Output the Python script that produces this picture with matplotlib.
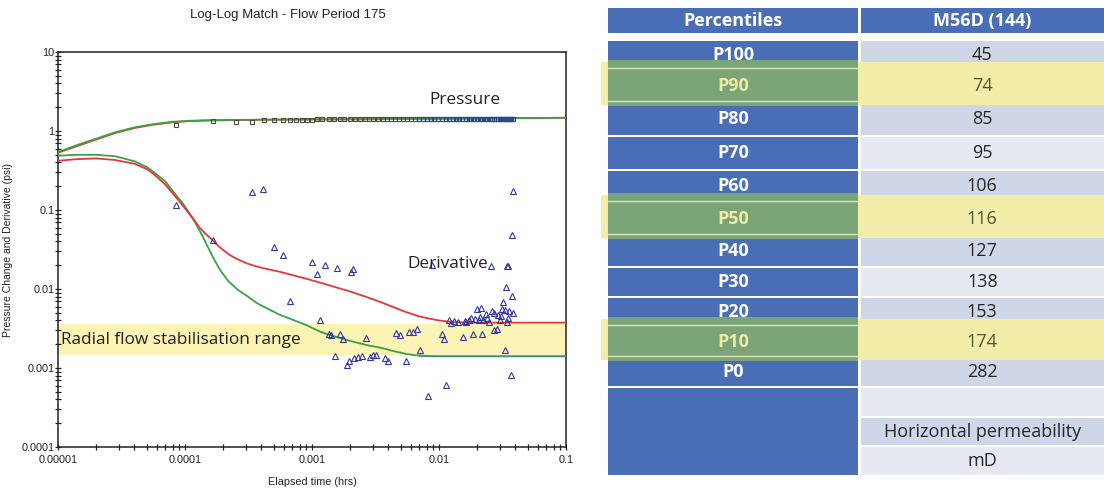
import matplotlib
matplotlib.use("Agg")
import matplotlib.pyplot as plt
from matplotlib.patches import Rectangle
from matplotlib.ticker import LogLocator, FixedLocator, FixedFormatter, NullFormatter

# ---------------- chart data ----------------
# pressure model curves (red / green)
pm_time = [1e-5, 1.4e-5, 2e-5, 2.8e-5, 4e-5, 5.6e-5, 8e-5, 1.12e-4, 1.6e-4,
           2.24e-4, 4e-4, 9e-4, 3e-3, 1e-2, 3e-2, 0.1]
pm_red = [0.53, 0.64, 0.78, 0.94, 1.09, 1.20, 1.29, 1.34, 1.36,
          1.37, 1.39, 1.40, 1.41, 1.43, 1.45, 1.47]
pm_green = [0.54, 0.66, 0.80, 0.96, 1.11, 1.22, 1.31, 1.35, 1.37,
            1.38, 1.39, 1.40, 1.41, 1.43, 1.45, 1.47]

# derivative model curves
dr_time = [1e-5, 1.4e-5, 2e-5, 2.8e-5, 4e-5, 5e-5, 5.6e-5, 7e-5, 8.5e-5,
           1.05e-4, 1.18e-4, 1.3e-4, 1.45e-4, 1.64e-4, 1.8e-4, 2.0e-4, 2.25e-4,
           2.5e-4, 2.8e-4, 3.1e-4, 3.7e-4, 4.5e-4, 5.6e-4, 7e-4, 9e-4,
           1.15e-3, 1.4e-3, 2.0e-3, 2.7e-3, 3.5e-3, 4.5e-3, 5.5e-3, 7e-3,
           8.5e-3, 1.0e-2, 1.3e-2, 2.0e-2, 0.1]
dr_red = [0.42, 0.44, 0.45, 0.43, 0.385, 0.33, 0.29, 0.21, 0.145,
          0.095, 0.075, 0.060, 0.050, 0.042, 0.036, 0.031, 0.027,
          0.0245, 0.0225, 0.021, 0.0192, 0.0178, 0.0165, 0.0150, 0.0135,
          0.0121, 0.0110, 0.0093, 0.0079, 0.0068, 0.0058, 0.0051, 0.0045,
          0.0042, 0.0040, 0.0038, 0.00375, 0.00375]
dg_time = [1e-5, 1.4e-5, 2e-5, 2.8e-5, 4e-5, 5e-5, 5.6e-5, 7e-5, 8.5e-5,
           9.5e-5, 1.05e-4, 1.15e-4, 1.25e-4, 1.38e-4, 1.5e-4, 1.7e-4, 1.9e-4,
           2.2e-4, 2.6e-4, 3.1e-4, 3.7e-4, 4.5e-4, 5.6e-4, 7e-4, 9e-4,
           1.15e-3, 1.4e-3, 2.0e-3, 2.7e-3, 3.5e-3, 4.5e-3, 5.5e-3, 6.5e-3,
           8e-3, 1e-2, 0.1]
dg_green = [0.487, 0.50, 0.50, 0.48, 0.414, 0.35, 0.307, 0.23, 0.154,
            0.125, 0.098, 0.078, 0.062, 0.046, 0.035, 0.0235, 0.0172,
            0.0125, 0.0098, 0.0081, 0.0066, 0.0056, 0.0047, 0.0041, 0.0035,
            0.0029, 0.0026, 0.0022, 0.00195, 0.0018, 0.00162, 0.00151, 0.00145,
            0.00142, 0.00141, 0.00141]

# pressure change data (squares)
p_time = [8.5e-5, 1.67e-4, 2.53e-4, 3.34e-4, 4.2e-4, 5.0e-4, 5.9e-4, 6.7e-4, 7.5e-4, 8.4e-4,
          9.2e-4, 1.0e-3, 1.1e-3, 1.2e-3, 1.35e-3, 1.5e-3, 1.65e-3, 1.8e-3, 2.0e-3, 2.2e-3,
          2.4e-3, 2.6e-3, 2.8e-3, 3.0e-3, 3.3e-3, 3.6e-3, 3.9e-3, 4.2e-3, 4.5e-3, 4.8e-3,
          5.2e-3, 5.6e-3, 6.0e-3, 6.5e-3, 7.0e-3, 7.5e-3, 8.0e-3, 8.6e-3, 9.2e-3, 0.0099,
          0.0106, 0.0113, 0.0120, 0.0128, 0.0136, 0.0144, 0.0153, 0.0162, 0.0171, 0.0180,
          0.019, 0.020, 0.021, 0.022, 0.023, 0.024, 0.025, 0.026, 0.027, 0.028,
          0.029, 0.030, 0.031, 0.032, 0.033, 0.034, 0.035, 0.036, 0.037, 0.038]
p_value = [1.18, 1.33, 1.30, 1.30, 1.37, 1.38, 1.38, 1.39, 1.39, 1.39,
           1.39, 1.39, 1.40, 1.40, 1.40, 1.40, 1.40, 1.40, 1.40, 1.40,
           1.40, 1.40, 1.40, 1.40, 1.40, 1.40, 1.40, 1.40, 1.40, 1.40,
           1.40, 1.40, 1.40, 1.40, 1.40, 1.40, 1.40, 1.40, 1.40, 1.40,
           1.40, 1.40, 1.40, 1.40, 1.40, 1.40, 1.40, 1.40, 1.40, 1.40,
           1.40, 1.40, 1.40, 1.40, 1.40, 1.40, 1.40, 1.40, 1.40, 1.40,
           1.40, 1.40, 1.40, 1.40, 1.40, 1.40, 1.40, 1.40, 1.40, 1.40]

# derivative data (triangles)
d_time = [8.5e-5, 1.67e-4, 3.36e-4, 4.14e-4, 4.99e-4, 5.86e-4, 6.68e-4, 1.00e-3, 1.09e-3, 1.26e-3,
          1.16e-3, 1.35e-3, 1.42e-3, 1.52e-3, 1.57e-3, 1.65e-3, 1.74e-3, 1.87e-3, 1.94e-3, 2.03e-3,
          2.10e-3, 2.15e-3, 2.30e-3, 2.48e-3, 2.68e-3, 2.84e-3, 3.02e-3, 3.20e-3, 3.74e-3, 4.00e-3,
          4.61e-3, 4.95e-3, 5.48e-3, 5.80e-3, 6.20e-3, 6.76e-3, 7.15e-3, 8.15e-3, 8.73e-3, 1.06e-2,
          1.10e-2, 1.14e-2, 1.19e-2, 1.25e-2, 1.31e-2, 1.40e-2, 1.55e-2, 1.60e-2, 1.64e-2, 1.72e-2,
          1.80e-2, 1.85e-2, 1.92e-2, 1.98e-2, 2.05e-2, 2.10e-2, 2.13e-2, 2.20e-2, 2.23e-2, 2.36e-2,
          2.40e-2, 2.49e-2, 2.58e-2, 2.62e-2, 2.70e-2, 2.71e-2, 2.86e-2, 2.94e-2, 3.01e-2, 3.10e-2,
          3.11e-2, 3.22e-2, 3.29e-2, 3.30e-2, 3.34e-2, 3.41e-2, 3.45e-2, 3.50e-2, 3.52e-2, 3.57e-2,
          3.70e-2, 3.79e-2, 3.84e-2, 3.79e-2, 3.84e-2]
d_value = [0.115, 0.042, 0.170, 0.185, 0.034, 0.027, 0.0070, 0.022, 0.0155, 0.020,
           0.0041, 0.0027, 0.0026, 0.00141, 0.0185, 0.0027, 0.0023, 0.0011, 0.00122, 0.0163,
           0.0177, 0.00134, 0.00138, 0.00141, 0.0024, 0.00138, 0.00144, 0.00148, 0.00134, 0.00122,
           0.0028, 0.0026, 0.00122, 0.00285, 0.00285, 0.0031, 0.0017, 0.00044, 0.020, 0.0027,
           0.0023, 0.00061, 0.0040, 0.0037, 0.0039, 0.0038, 0.0025, 0.0039, 0.0038, 0.0041,
           0.0043, 0.0027, 0.0042, 0.0056, 0.0041, 0.0044, 0.0058, 0.0027, 0.0041, 0.0048,
           0.0043, 0.0038, 0.0198, 0.0053, 0.0050, 0.0030, 0.0031, 0.0047, 0.0041, 0.0046,
           0.0056, 0.0068, 0.0017, 0.0054, 0.0105, 0.0193, 0.0038, 0.0043, 0.0193, 0.0053,
           0.00082, 0.0082, 0.0049, 0.048, 0.173]

band_low, band_high = 0.00148, 0.00357

x_ticks = [1e-5, 1e-4, 1e-3, 1e-2, 1e-1]
x_tick_labels = ["0.00001", "0.0001", "0.001", "0.01", "0.1"]
y_ticks = [1e-4, 1e-3, 1e-2, 1e-1, 1, 10]
y_tick_labels = ["0.0001", "0.001", "0.01", "0.1", "1", "10"]

# ---------------- table data ----------------
percentiles = ["P100", "P90", "P80", "P70", "P60", "P50", "P40", "P30", "P20", "P10", "P0"]
perm_values = [45, 74, 85, 95, 106, 116, 127, 138, 153, 174, 282]
highlighted = ["P90", "P50", "P10"]
header = ["Percentiles", "M56D (144)"]
footer = ["", "Horizontal permeability", "mD"]

# ---------------- figure ----------------
W, H = 1104, 494
fig = plt.figure(figsize=(W / 100, H / 100), dpi=100)
fig.patch.set_facecolor("white")

NARROW = ["Liberation Sans", "DejaVu Sans"]
CAL = ["Open Sans", "DejaVu Sans"]

# ---- log-log chart ----
ax = fig.add_axes([58 / W, 1 - 447 / H, (566 - 58) / W, (447 - 52) / H], zorder=2)
ax.set_facecolor("white")
ax.set_xscale("log")
ax.set_yscale("log")
ax.set_xlim(1e-5, 0.1)
ax.set_ylim(1e-4, 10)

ax.axhspan(band_low, band_high, color="#fbf4b4", zorder=0, lw=0)

ax.plot(pm_time, pm_red, color="#e8353a", lw=1.3, zorder=3)
ax.plot(pm_time, pm_green, color="#3aa244", lw=1.3, zorder=3)
ax.plot(dg_time, dg_green, color="#3aa244", lw=1.3, zorder=3)
ax.plot([7e-3, 0.1], [band_low * 0.955, band_low * 0.955], color="#3f7fb0", lw=1.0, alpha=0.7, zorder=3)
ax.plot(dr_time, dr_red, color="#e8353a", lw=1.3, zorder=3)

early = [i for i, t in enumerate(p_time) if t < 7e-3]
late = [i for i, t in enumerate(p_time) if t >= 7e-3]
ax.plot([p_time[i] for i in early], [p_value[i] for i in early], ls="none", marker="s",
        ms=3.2, mfc="none", mec="#4a4a40", mew=0.8, zorder=4)
ax.plot([p_time[i] for i in late], [p_value[i] for i in late], ls="none", marker="s",
        ms=3.2, mfc="none", mec="#2e4a86", mew=0.9, zorder=4)
ax.plot(d_time, d_value, ls="none", marker="^", ms=4.8, mfc="none", mec="#3535a5",
        mew=0.8, zorder=4)

ax.text(1.05e-5, 0.00228, "Radial flow stabilisation range", family=CAL, fontsize=12.4,
        color="#222222", va="center", ha="left", zorder=5)
ax.text(0.016, 2.45, "Pressure", family=CAL, fontsize=12.4, color="#222222",
        va="center", ha="center", zorder=5)
ax.text(0.0118, 0.0205, "Derivative", family=CAL, fontsize=12.4, color="#222222",
        va="center", ha="center", zorder=5)

ax.xaxis.set_major_locator(FixedLocator(x_ticks))
ax.xaxis.set_major_formatter(FixedFormatter(x_tick_labels))
ax.yaxis.set_major_locator(FixedLocator(y_ticks))
ax.yaxis.set_major_formatter(FixedFormatter(y_tick_labels))
ax.xaxis.set_minor_locator(LogLocator(base=10, subs=range(2, 10), numticks=20))
ax.yaxis.set_minor_locator(LogLocator(base=10, subs=range(2, 10), numticks=20))
ax.xaxis.set_minor_formatter(NullFormatter())
ax.yaxis.set_minor_formatter(NullFormatter())
ax.tick_params(which="both", direction="inout", color="#222222", width=0.9,
               top=False, right=False)
ax.tick_params(which="major", length=5)
ax.tick_params(which="minor", length=4)
ax.tick_params(axis="y", which="major", pad=0)
ax.tick_params(axis="x", which="major", pad=3)
for lab in ax.get_xticklabels() + ax.get_yticklabels():
    lab.set_family(NARROW)
    lab.set_fontsize(7.8)
    lab.set_color("#222222")
for sp in ax.spines.values():
    sp.set_color("#222222")
    sp.set_linewidth(1.1)

ax.set_xlabel("Elapsed time (hrs)", family=NARROW, fontsize=7.8, color="#222222", labelpad=9)
ax.set_ylabel("Pressure Change and Derivative (psi)", family=NARROW,
              fontsize=7.5, color="#222222")
ax.yaxis.set_label_coords(-0.088, 0.5)
fig.text(288 / W, 1 - 15 / H, "Log-Log Match - Flow Period 175", family=NARROW, fontsize=9.5,
         color="#222222", ha="center", va="center")

# ---- percentile table ----
tb = fig.add_axes([0, 0, 1, 1], zorder=1)
tb.set_xlim(0, W)
tb.set_ylim(H, 0)
tb.axis("off")

BLUE = "#4a6eb6"
GREEN = "#7ba479"
YELLOW = "#f2eeaa"
BAND_DARK = "#cfd6e8"
BAND_LIGHT = "#e6e9f2"
TFS = 13

c0l, c0r = 608, 858
c1l, c1r = 860.5, 1104
row_edges = [40, 70.5, 102, 135.5, 170, 202.5, 235, 267, 297, 327, 357, 387]
foot_edges = [387, 417, 446, 476]


def cell(x0, x1, y0, y1, color, z=1):
    tb.add_patch(Rectangle((x0, y0), x1 - x0, y1 - y0, facecolor=color, edgecolor="none", zorder=z))


# header
cell(c0l, c0r, 8, 33.5, BLUE)
cell(c1l, c1r, 8, 33.5, BLUE)
tb.text((c0l + c0r) / 2, 21, header[0], family=CAL, weight="bold", fontsize=TFS,
        color="white", ha="center", va="center", zorder=5)
tb.text((c1l + c1r) / 2, 21, header[1], family=CAL, weight="bold", fontsize=TFS,
        color="white", ha="center", va="center", zorder=5)

# percentile rows
for i, (name, val) in enumerate(zip(percentiles, perm_values)):
    y0, y1 = row_edges[i] + 1, row_edges[i + 1] - 1
    cell(c0l, c0r, y0, y1, BLUE)
    cell(c1l, c1r, y0, y1, BAND_DARK if i % 2 == 0 else BAND_LIGHT)

# highlighted rows drawn over their neighbours
for i, name in enumerate(percentiles):
    if name not in highlighted:
        continue
    y0, y1 = row_edges[i], row_edges[i + 1]
    cell(601, c1r, y0 - 8, y1 + 3, YELLOW, z=2)
    cell(c0l, c0r, y0 - 10, y1 + 4, GREEN, z=3)
    tb.plot([c0l, c0r], [y0 - 2, y0 - 2], color="#d9e6b8", lw=1.0, zorder=4)
    tb.plot([c0l, c0r], [y1 - 1, y1 - 1], color="#d9e6b8", lw=1.0, zorder=4)

for i, (name, val) in enumerate(zip(percentiles, perm_values)):
    yc = (row_edges[i] + row_edges[i + 1]) / 2
    hl = name in highlighted
    tb.text((c0l + c0r) / 2, yc, name, family=CAL, weight="bold", fontsize=TFS,
            color="#efeba2" if hl else "white", ha="center", va="center", zorder=5)
    tb.text((c1l + c1r) / 2, yc, str(val), family=CAL, fontsize=TFS,
            color="#55552e" if hl else "#262626", ha="center", va="center", zorder=5)

# footer: merged left cell, unit rows on the right
cell(c0l, c0r, foot_edges[0] + 1, foot_edges[-1] - 1, BLUE)
for j, txt in enumerate(footer):
    y0, y1 = foot_edges[j] + 1, foot_edges[j + 1] - 1
    cell(c1l, c1r, y0, y1, BAND_LIGHT if j % 2 == 0 else BAND_DARK)
    if txt:
        tb.text((c1l + c1r) / 2, (y0 + y1) / 2, txt, family=CAL, fontsize=TFS,
                color="#262626", ha="center", va="center", zorder=5)

fig.savefig("out.png", dpi=100)
